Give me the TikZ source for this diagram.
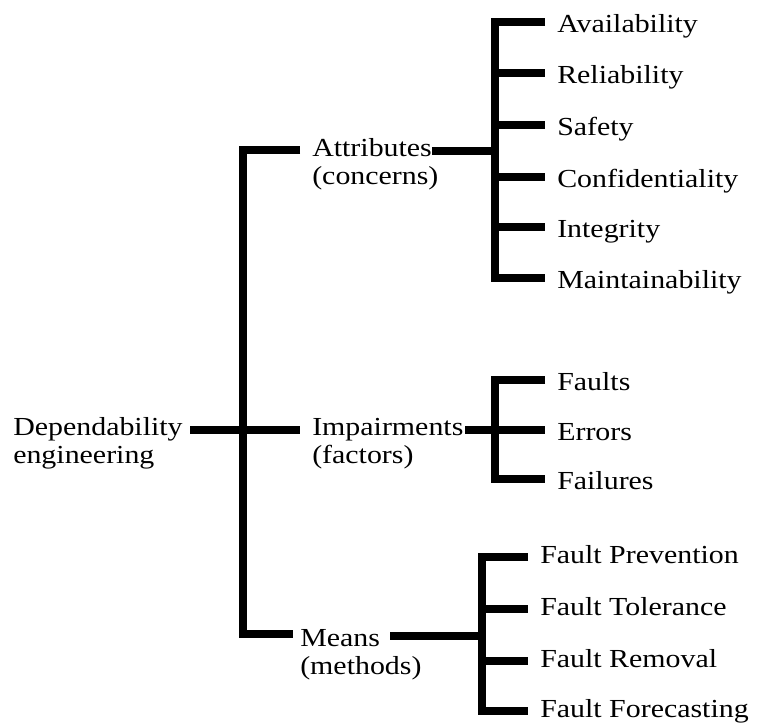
\documentclass[tikz,border=0pt]{standalone}
\usepackage{fontspec}
\setmainfont{Liberation Serif}[FakeStretch=1.15]
\begin{document}
\begin{tikzpicture}[x=0.75pt,y=-0.75pt,
  bar/.style={line width=6.3pt, line join=miter, line cap=butt},
  lbl/.style={inner sep=0pt, anchor=base west, align=left, font=\fontsize{19.5}{21}\selectfont},
  leafA/.style={inner sep=0pt, anchor=west, text height=15.75pt, text depth=0pt, font=\fontsize{19.5}{21}\selectfont},
  leafM/.style={inner sep=0pt, anchor=west, text height=9pt, text depth=0pt, font=\fontsize{19.5}{21}\selectfont}]
\useasboundingbox (0,0) rectangle (770,722);

% labels (anchor at baseline of the second line)
\node[lbl] (dep) at (13,463) {Dependability\\engineering};
\node[lbl] (att) at (312,184) {Attributes\\(concerns)};
\node[lbl] (imp) at (312,463) {Impairments\\(factors)};
\node[lbl] (mea) at (300,674) {Means\\(methods)};

% leaves
\node[leafA] (a1) at (557,22) {Availability};
\node[leafA] (a2) at (557,73) {Reliability};
\node[leafA] (a3) at (557,125) {Safety};
\node[leafA] (a4) at (557,177) {Confidentiality};
\node[leafA] (a5) at (557,227) {Integrity};
\node[leafA] (a6) at (557,278) {Maintainability};
\node[leafA] (i1) at (557,380) {Faults};
\node[leafA] (i2) at (557,430) {Errors};
\node[leafA] (i3) at (557,479) {Failures};
\node[leafM] (m1) at (540,557) {Fault Prevention};
\node[leafM] (m2) at (540,609) {Fault Tolerance};
\node[leafM] (m3) at (540,661) {Fault Removal};
\node[leafM] (m4) at (540,711) {Fault Forecasting};

% junction coordinates
\coordinate (atin) at (300,150);
\coordinate (mtop) at (243,150);
\coordinate (mbot) at (243,634);
\coordinate (mein) at (293,634);
\coordinate (depend) at (190,430);
\coordinate (impin) at (300,430);
\coordinate (attend) at (432,151);
\coordinate (abar) at (495,151);
\coordinate (impend) at (465,430);
\coordinate (ibar) at (495,430);
\coordinate (meaend) at (390,636);
\coordinate (mbar) at (482,636);

% main tree
\draw[bar] (atin) -- (mtop) -- (mbot) -- (mein);
\draw[bar] (depend) -- (impin);

% attributes
\draw[bar] (attend) -- (abar);
\draw[bar, shorten <=9pt, shorten >=9pt] (a1.west) -- (abar |- a1) -- (abar |- a6) -- (a6.west);
\foreach \n in {a2,a3,a4,a5} \draw[bar, shorten >=9pt] (abar |- \n) -- (\n.west);

% impairments
\draw[bar] (impend) -- (ibar);
\draw[bar, shorten <=9pt, shorten >=9pt] (i1.west) -- (ibar |- i1) -- (ibar |- i3) -- (i3.west);
\draw[bar, shorten >=9pt] (ibar |- i2) -- (i2.west);

% means
\draw[bar] (meaend) -- (mbar);
\draw[bar, shorten <=9pt, shorten >=9pt] (m1.west) -- (mbar |- m1) -- (mbar |- m4) -- (m4.west);
\foreach \n in {m2,m3} \draw[bar, shorten >=9pt] (mbar |- \n) -- (\n.west);
\end{tikzpicture}
\end{document}
